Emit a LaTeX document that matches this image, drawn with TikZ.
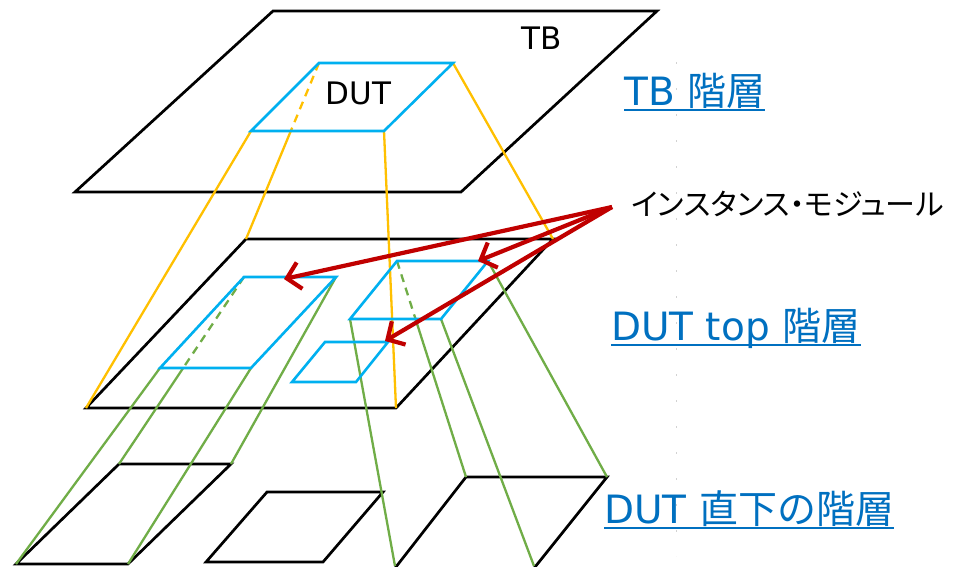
\documentclass[tikz,border=0pt]{standalone}
\usepackage{fontspec}
\setmainfont{DejaVu Sans}
\newfontfamily\jp{Noto Sans CJK JP}
\newfontfamily\jpp[RawFeature=+palt]{Noto Sans CJK JP}
\usetikzlibrary{arrows.meta,calc}
\definecolor{lvlblue}{HTML}{0070C0}
\definecolor{modblue}{HTML}{00B0F0}
\definecolor{dutorange}{HTML}{FFC000}
\definecolor{subgreen}{HTML}{70AD47}
\definecolor{instred}{HTML}{C00000}
\begin{document}
\begin{tikzpicture}[x=1pt,y=-1pt,
  plane/.style={draw=black,line width=2.7pt,line join=miter},
  mod/.style={draw=modblue,line width=2.6pt,line join=miter},
  oline/.style={draw=dutorange,line width=2.3pt},
  gline/.style={draw=subgreen,line width=2.3pt},
  hid/.style={dash pattern=on 8pt off 6pt},
  inst/.style={draw=instred,line width=4.2pt,-{Straight Barb[length=13pt,width=27pt]}},
  lvl/.style={text=lvlblue,font=\fontsize{39}{42}\selectfont,inner sep=0pt,anchor=base west},
  ul/.style={draw=lvlblue,line width=2pt},
  inlbl/.style={font=\fontsize{31}{34}\selectfont,inner sep=0pt}]
\useasboundingbox (0,0) rectangle (957,566);
\clip (0,0) rectangle (957,566);
\fill[white] (0,0) rectangle (957,566);

% faint guide
\draw[gray!35,line width=0.8pt,dash pattern=on 2pt off 24pt] (676,62) -- (676,556);

% TB plane
\coordinate (tbtl) at (273,11);  \coordinate (tbtr) at (657,11);
\coordinate (tbbr) at (461,192); \coordinate (tbbl) at (75,192);
% DUT top plane
\coordinate (dtl) at (246,239);  \coordinate (dtr) at (553,239);
\coordinate (dbr) at (396,408);  \coordinate (dbl) at (86,408);
% bottom planes
\coordinate (atl) at (119,464); \coordinate (atr) at (231,464);
\coordinate (abr) at (128,564); \coordinate (abl) at (16,564);
\coordinate (btl) at (267,492); \coordinate (btr) at (383,492);
\coordinate (bbr) at (323,562); \coordinate (bbl) at (206,562);
\coordinate (ctl) at (466,477); \coordinate (ctr) at (607,477);
\coordinate (cbr) at (534,566); \coordinate (cbl) at (395,566);
\coordinate (cbr2) at (531,572); \coordinate (cbl2) at (392,572);
% DUT module in TB
\coordinate (utl) at (319,63);  \coordinate (utr) at (453,63);
\coordinate (ubr) at (384,131); \coordinate (ubl) at (251,131);
% modules in DUT top
\coordinate (p1tl) at (244,277); \coordinate (p1tr) at (336,277);
\coordinate (p1br) at (251,368); \coordinate (p1bl) at (160,368);
\coordinate (p2tl) at (397,261); \coordinate (p2tr) at (488,261);
\coordinate (p2br) at (441,319); \coordinate (p2bl) at (350,319);
\coordinate (p3tl) at (325,342); \coordinate (p3tr) at (388,342);
\coordinate (p3br) at (356,382); \coordinate (p3bl) at (292,382);

% planes
\draw[plane] (tbtl) -- (tbtr) -- (tbbr) -- (tbbl) -- cycle;
\draw[plane] (dtl) -- (dtr) -- (dbr) -- (dbl) -- cycle;
\draw[plane] (atl) -- (atr) -- (abr) -- (abl) -- cycle;
\draw[plane] (btl) -- (btr) -- (bbr) -- (bbl) -- cycle;
\draw[plane] (cbl2) -- (ctl) -- (ctr) -- (cbr2);

% orange projections DUT -> DUT top plane
\coordinate (uh) at ($(utl)!0.386!(dtl)$);
\draw[oline] (ubl) -- (dbl);
\draw[oline,hid] (utl) -- (uh);
\draw[oline] (uh) -- (dtl);
\draw[oline] (ubr) -- (dbr);
\draw[oline] (utr) -- (dtr);

% green projections
\coordinate (h1) at ($(p1tl)!0.487!(atl)$);
\coordinate (h2) at ($(p2tl)!0.269!(ctl)$);
\draw[gline] (p1bl) -- (abl);
\draw[gline,hid] (p1tl) -- (h1);
\draw[gline] (h1) -- (atl);
\draw[gline] (p1br) -- (abr);
\draw[gline] (p1tr) -- (atr);
\draw[gline] (p2bl) -- (cbl);
\draw[gline,hid] (p2tl) -- (h2);
\draw[gline] (h2) -- (ctl);
\draw[gline] (p2br) -- (cbr);
\draw[gline] (p2tr) -- (ctr);

% module rectangles
\draw[mod] (utl) -- (utr) -- (ubr) -- (ubl) -- cycle;
\draw[mod] (p1tl) -- (p1tr) -- (p1br) -- (p1bl) -- cycle;
\draw[mod] (p2tl) -- (p2tr) -- (p2br) -- (p2bl) -- cycle;
\draw[mod] (p3tl) -- (p3tr) -- (p3br) -- (p3bl) -- cycle;

% labels inside
\node[inlbl] (tbin) at (542,38.5) {TB};
\node[inlbl] (dutin) at (358.5,93) {DUT};

% instance label and arrows
\node[font=\jpp\fontsize{30}{32}\selectfont,inner sep=0pt,anchor=west] (inst) at (631,204) {インスタンス・モジュール};
\coordinate (src) at (612,207);
\coordinate (a1) at (284,279);
\coordinate (a2) at (478,261);
\coordinate (a3) at (385,341);
\draw[inst] (src) -- (a1);
\draw[inst] (src) -- (a2);
\draw[inst] (src) -- (a3);

% level labels
\node[lvl] (l1) at (624,105) {TB {\jp 階層}};
\node[lvl] (l2) at (611,340) {DUT top {\jp 階層}};
\node[lvl] (l3) at (604,523) {DUT {\jp 直下の階層}};
\draw[ul] ([yshift=-5pt]l1.base west) -- ([yshift=-5pt]l1.base east);
\draw[ul] ([yshift=-5pt]l2.base west) -- ([yshift=-5pt]l2.base east);
\draw[ul] ([yshift=-5pt]l3.base west) -- ([yshift=-5pt]l3.base east);
\end{tikzpicture}
\end{document}
